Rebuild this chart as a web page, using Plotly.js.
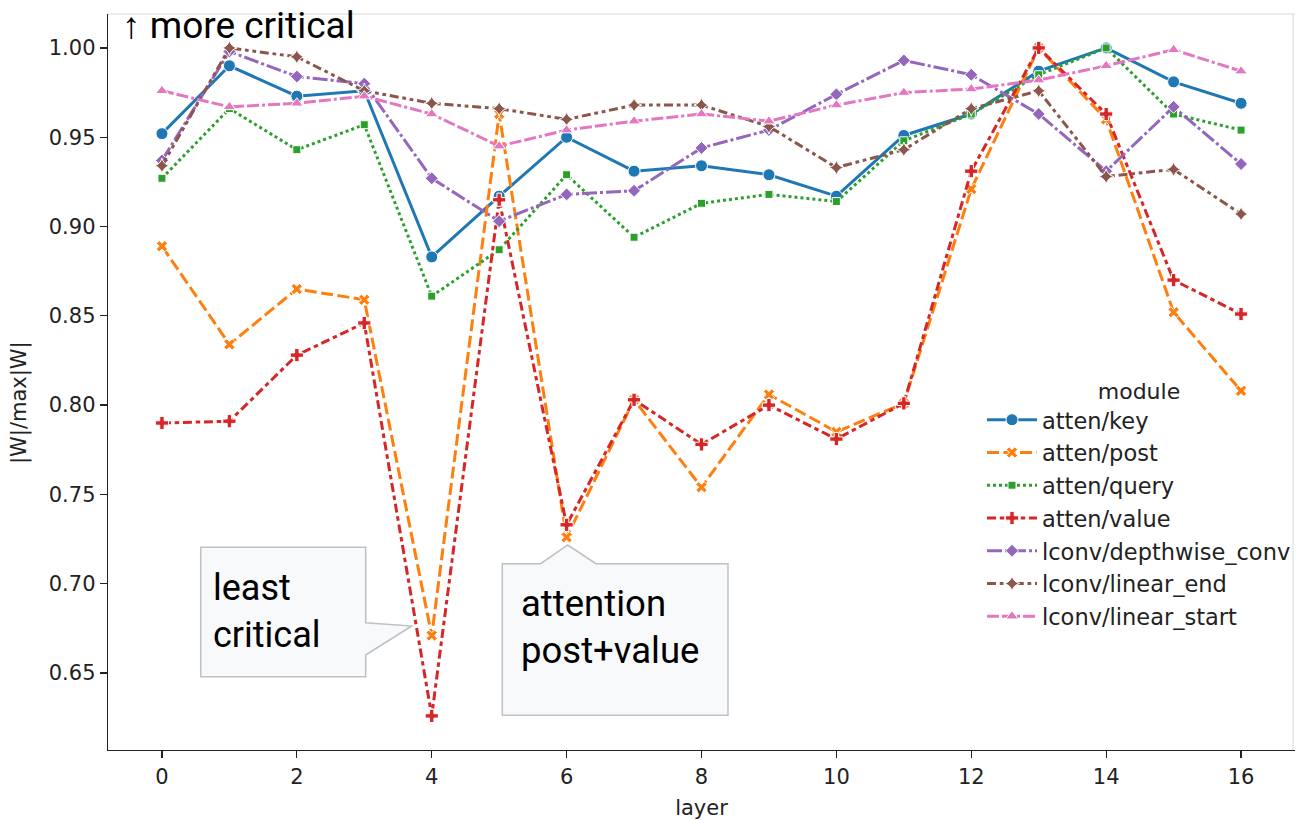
<!DOCTYPE html>
<html><head><meta charset="utf-8">
<script src="https://cdn.plot.ly/plotly-3.0.1.min.js"></script>
<style>body{margin:0;background:#fff}#chart{width:1297px;height:820px}</style>
</head><body><div id="chart"></div>
<script>
const layers = [0,1,2,3,4,5,6,7,8,9,10,11,12,13,14,15,16];
const moduleNames = ["atten/key","atten/post","atten/query","atten/value","lconv/depthwise_conv","lconv/linear_end","lconv/linear_start"];
const attenKey   = [0.952,0.990,0.973,0.976,0.883,0.917,0.950,0.931,0.934,0.929,0.917,0.951,0.963,0.987,1.000,0.981,0.969];
const attenPost  = [0.889,0.834,0.865,0.859,0.671,0.963,0.726,0.803,0.754,0.806,0.785,0.801,0.921,1.000,0.960,0.852,0.808];
const attenQuery = [0.927,0.966,0.943,0.957,0.861,0.887,0.929,0.894,0.913,0.918,0.914,0.948,0.963,0.985,1.000,0.963,0.954];
const attenValue = [0.790,0.791,0.828,0.846,0.626,0.915,0.733,0.803,0.778,0.800,0.781,0.801,0.931,1.000,0.963,0.870,0.851];
const depthwise  = [0.937,0.998,0.984,0.980,0.927,0.903,0.918,0.920,0.944,0.954,0.974,0.993,0.985,0.963,0.931,0.967,0.935];
const linearEnd  = [0.934,1.000,0.995,0.976,0.969,0.966,0.960,0.968,0.968,0.956,0.933,0.943,0.966,0.976,0.928,0.932,0.907];
const linearStart= [0.976,0.967,0.969,0.973,0.963,0.945,0.954,0.959,0.963,0.959,0.968,0.975,0.977,0.982,0.990,0.999,0.987];
const seriesValues = [attenKey, attenPost, attenQuery, attenValue, depthwise, linearEnd, linearStart];
const yTickVals = [0.65,0.70,0.75,0.80,0.85,0.90,0.95,1.00];
const xTickVals = [0,2,4,6,8,10,12,14,16];

const colors = ["#1f77b4","#ff7f0e","#2ca02c","#d62728","#9467bd","#8c564b","#e377c2"];
const dashes = ["solid","12px,4.5px","3px,3px","9px,3.75px,4.5px,3.75px","15px,3px,3px,3px",
                "9px,3.75px,3.75px,3.75px,3.75px,3.75px","12px,3px,12px,3px,3px,3px"];
const symbols = ["circle","x","square","cross","diamond","star-diamond","triangle-up"];
const sizes = [12,10,8,11,10,11,11];

const traces = moduleNames.map((name,i)=>({
  type:"scatter", mode:"lines+markers", name:name, x:layers, y:seriesValues[i],
  legendgroup:"g"+i,
  line:{color:colors[i], width:3, dash:dashes[i]},
  marker:{color:colors[i], symbol:symbols[i], size:sizes[i], line:{color:"#ffffff", width:1}}
}));

// pixel -> paper helpers
const L=108, R=1295, T=14, B=750;
const px = v => (v-L)/(R-L);
const py = v => (B-v)/(B-T);
function path(pts){ return "M " + pts.map(p=>px(p[0]).toFixed(5)+" "+py(p[1]).toFixed(5)).join(" L ") + " Z"; }

const box1 = path([[200.7,547.3],[365.7,547.3],[365.7,622.7],[411.7,626],[365.7,655],[365.7,676.7],[200.7,676.7]]);
const box2 = path([[502.3,563.7],[540.7,563.7],[567.7,545],[596,563.7],[728,563.7],[728,715.3],[502.3,715.3]]);

const layout = {
  width:1297, height:820,
  margin:{l:L, r:1297-R, t:T, b:820-B, autoexpand:false},
  paper_bgcolor:"#ffffff", plot_bgcolor:"#ffffff",
  font:{family:"DejaVu Sans", color:"#222222"},
  xaxis:{range:[-0.8,16.8], tickvals:xTickVals, ticks:"outside", ticklen:7, tickwidth:1.3, tickcolor:"#222",
         showline:true, linecolor:"#222", linewidth:1.3, showgrid:false, zeroline:false,
         tickfont:{size:21, family:"DejaVu Sans"},
         title:{text:"layer", font:{size:21, family:"DejaVu Sans"}, standoff:14}},
  yaxis:{range:[0.6069,1.0190], tickvals:yTickVals, tickformat:".2f", ticks:"outside", ticklen:7, tickwidth:1.3, tickcolor:"#222",
         showline:true, linecolor:"#222", linewidth:1.3, showgrid:false, zeroline:false,
         tickfont:{size:21, family:"DejaVu Sans"}},
  showlegend:true,
  legend:{x:px(982), y:py(370), xanchor:"left", yanchor:"top", bgcolor:"rgba(0,0,0,0)", itemwidth:50,
          font:{size:22.5, family:"DejaVu Sans", color:"#222"}, tracegroupgap:0.5,
          title:{text:"module", side:"top center", font:{size:22, family:"DejaVu Sans", color:"#222"}}},
  shapes:[
    {type:"line", xref:"paper", yref:"paper", x0:0, x1:1, y0:1, y1:1, line:{color:"#d8d8d8", width:1}},
    {type:"line", xref:"paper", yref:"paper", x0:px(1293), x1:px(1293), y0:0, y1:1, line:{color:"#d8d8d8", width:1}},
    {type:"path", xref:"paper", yref:"paper", path:box1, fillcolor:"#f8f9fa", line:{color:"#bdc1c6", width:1.5}, layer:"above"},
    {type:"path", xref:"paper", yref:"paper", path:box2, fillcolor:"#f8f9fa", line:{color:"#bdc1c6", width:1.5}, layer:"above"}
  ],
  annotations:[
    {xref:"paper", yref:"paper", x:px(120), y:py(26), xanchor:"left", yanchor:"middle", showarrow:false,
     text:"↑ more critical", font:{family:"Roboto", size:37, color:"#000"}},
    {xref:"paper", yref:"paper", x:px(211), y:py(611), xanchor:"left", yanchor:"middle", showarrow:false, align:"left",
     text:"least<br>critical", font:{family:"Roboto", size:36, color:"#000"}},
    {xref:"paper", yref:"paper", x:px(519), y:py(627), xanchor:"left", yanchor:"middle", showarrow:false, align:"left",
     text:"attention<br>post+value", font:{family:"Roboto", size:36.5, color:"#000"}},
    {xref:"paper", yref:"paper", x:px(20), y:py(403), xanchor:"center", yanchor:"middle", showarrow:false, textangle:-90,
     text:"|W|/max|W|", font:{family:"DejaVu Sans", size:21, color:"#222"}}
  ]
};
Plotly.newPlot("chart", traces, layout, {displayModeBar:false, staticPlot:true});
</script></body></html>
